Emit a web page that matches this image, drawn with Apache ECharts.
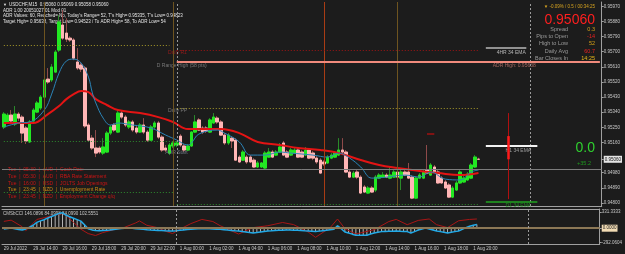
<!DOCTYPE html>
<html>
<head>
<meta charset="utf-8">
<script src="https://cdn.jsdelivr.net/npm/echarts@6/dist/echarts.min.js"></script>
<style>
  html, body { margin: 0; padding: 0; background: #1c1c1c; }
  #main { width: 625px; height: 254px; }
</style>
</head>
<body>
<div id="main"></div>
<script>
// M15 bars: Friday afternoon, Monday, then the empty chart shift on the right
const sessions = [
  { day: "29 Jul", from: 12 * 60, bars: 48 },
  { day: "1 Aug", from: 0, bars: 96 },
  { day: "2 Aug", from: 0, bars: 19 },
];
const pad = (n) => String(n).padStart(2, "0");
const times = sessions.flatMap(({ day, from, bars }) =>
  Array.from({ length: bars }, (_, j) => {
    const m = from + j * 15;
    return `${day} ${pad(Math.floor(m / 60))}:${pad(m % 60)}`;
  })
);

// [open, close, low, high]
const candles = [
  [0.95252, 0.95329, 0.95240, 0.95341], [0.95282, 0.95323, 0.95270, 0.95335],
  [0.95323, 0.95288, 0.95276, 0.95353], [0.95270, 0.95329, 0.95258, 0.95377],
  [0.95329, 0.95305, 0.95288, 0.95341], [0.95311, 0.95216, 0.95157, 0.95323],
  [0.95246, 0.95169, 0.95151, 0.95258], [0.95163, 0.95282, 0.95157, 0.95294],
  [0.95288, 0.95353, 0.95282, 0.95365], [0.95341, 0.95395, 0.95335, 0.95407],
  [0.95365, 0.95430, 0.95353, 0.95442], [0.95430, 0.95532, 0.95424, 0.95543],
  [0.95537, 0.95520, 0.95508, 0.95603], [0.95532, 0.95609, 0.95520, 0.95627],
  [0.95579, 0.95698, 0.95573, 0.95710], [0.95710, 0.95877, 0.95698, 0.95918],
  [0.95859, 0.95781, 0.95770, 0.95948], [0.95811, 0.95775, 0.95758, 0.95900],
  [0.95781, 0.95770, 0.95758, 0.95793], [0.95770, 0.95662, 0.95650, 0.95781],
  [0.95639, 0.95603, 0.95591, 0.95722], [0.95621, 0.95597, 0.95579, 0.95639],
  [0.95603, 0.95258, 0.95246, 0.95615], [0.95264, 0.95174, 0.95163, 0.95276],
  [0.95186, 0.95127, 0.95115, 0.95204], [0.95127, 0.95097, 0.95073, 0.95234],
  [0.95127, 0.95103, 0.95091, 0.95139], [0.95097, 0.95133, 0.95085, 0.95186],
  [0.95103, 0.95216, 0.95097, 0.95228], [0.95216, 0.95252, 0.95204, 0.95264],
  [0.95264, 0.95234, 0.95222, 0.95276], [0.95222, 0.95335, 0.95216, 0.95353],
  [0.95335, 0.95311, 0.95299, 0.95347], [0.95311, 0.95264, 0.95252, 0.95323],
  [0.95252, 0.95282, 0.95240, 0.95294], [0.95282, 0.95234, 0.95222, 0.95294],
  [0.95246, 0.95222, 0.95210, 0.95258], [0.95222, 0.95264, 0.95216, 0.95276],
  [0.95264, 0.95222, 0.95210, 0.95305], [0.95222, 0.95174, 0.95163, 0.95234],
  [0.95174, 0.95252, 0.95169, 0.95264], [0.95252, 0.95276, 0.95240, 0.95288],
  [0.95276, 0.95192, 0.95180, 0.95288], [0.95192, 0.95115, 0.95103, 0.95204],
  [0.95127, 0.95115, 0.95103, 0.95145], [0.95097, 0.95145, 0.95085, 0.95157],
  [0.95139, 0.95157, 0.95127, 0.95169], [0.95145, 0.95157, 0.95133, 0.95169],
  [0.95198, 0.95145, 0.95133, 0.95210], [0.95139, 0.95115, 0.95103, 0.95151],
  [0.95115, 0.95139, 0.95109, 0.95151], [0.95139, 0.95222, 0.95133, 0.95228],
  [0.95222, 0.95282, 0.95216, 0.95323], [0.95294, 0.95234, 0.95228, 0.95305],
  [0.95246, 0.95222, 0.95210, 0.95258], [0.95246, 0.95228, 0.95216, 0.95258],
  [0.95222, 0.95294, 0.95216, 0.95305], [0.95276, 0.95311, 0.95270, 0.95335],
  [0.95305, 0.95282, 0.95270, 0.95317], [0.95282, 0.95204, 0.95198, 0.95294],
  [0.95204, 0.95157, 0.95145, 0.95216], [0.95157, 0.95204, 0.95145, 0.95216],
  [0.95186, 0.95169, 0.95127, 0.95198], [0.95174, 0.95055, 0.95050, 0.95186],
  [0.95073, 0.95044, 0.95038, 0.95085], [0.95055, 0.95103, 0.95050, 0.95115],
  [0.95073, 0.95044, 0.95032, 0.95085], [0.95073, 0.95044, 0.95038, 0.95085],
  [0.95055, 0.95014, 0.95008, 0.95067], [0.95014, 0.95038, 0.95008, 0.95050],
  [0.95014, 0.95038, 0.95008, 0.95044], [0.95008, 0.95097, 0.95002, 0.95109],
  [0.95073, 0.95103, 0.95067, 0.95127], [0.95103, 0.95073, 0.95067, 0.95115],
  [0.95085, 0.95103, 0.95079, 0.95115], [0.95103, 0.95133, 0.95097, 0.95157],
  [0.95157, 0.95085, 0.95079, 0.95169], [0.95103, 0.95073, 0.95067, 0.95115],
  [0.95085, 0.95115, 0.95079, 0.95127], [0.95097, 0.95115, 0.95091, 0.95127],
  [0.95115, 0.95073, 0.95067, 0.95127], [0.95103, 0.95073, 0.95067, 0.95115],
  [0.95085, 0.95115, 0.95079, 0.95133], [0.95115, 0.95067, 0.95061, 0.95127],
  [0.95097, 0.95067, 0.95055, 0.95109], [0.95067, 0.95044, 0.95032, 0.95079],
  [0.95055, 0.94978, 0.94972, 0.95067], [0.95044, 0.95032, 0.95020, 0.95055],
  [0.95038, 0.95073, 0.95032, 0.95085], [0.95067, 0.95085, 0.95061, 0.95097],
  [0.95073, 0.95097, 0.95067, 0.95109], [0.95085, 0.95115, 0.95079, 0.95186],
  [0.95115, 0.95103, 0.95085, 0.95186], [0.95103, 0.94984, 0.94978, 0.95115],
  [0.94984, 0.94954, 0.94948, 0.94996], [0.94954, 0.94978, 0.94948, 0.94990],
  [0.94984, 0.94954, 0.94942, 0.94996], [0.94954, 0.94859, 0.94853, 0.94966],
  [0.94895, 0.94865, 0.94859, 0.94907], [0.94859, 0.94889, 0.94853, 0.94901],
  [0.94889, 0.94865, 0.94859, 0.94901], [0.94877, 0.94954, 0.94865, 0.94966],
  [0.94948, 0.94966, 0.94942, 0.94978], [0.94954, 0.94966, 0.94948, 0.94984],
  [0.94966, 0.94954, 0.94948, 0.94978], [0.94948, 0.94966, 0.94942, 0.95020],
  [0.94954, 0.94984, 0.94948, 0.94996], [0.94984, 0.94954, 0.94948, 0.94996],
  [0.94948, 0.94984, 0.94877, 0.94996], [0.94984, 0.94966, 0.94960, 0.94996],
  [0.94984, 0.94948, 0.94942, 0.95038], [0.94954, 0.94829, 0.94823, 0.94966],
  [0.94829, 0.94948, 0.94823, 0.94960], [0.94948, 0.94966, 0.94942, 0.94978],
  [0.94948, 0.94984, 0.94942, 0.94996], [0.94996, 0.94978, 0.94972, 0.95145],
  [0.94966, 0.95026, 0.94960, 0.95038], [0.95014, 0.94984, 0.94978, 0.95026],
  [0.94984, 0.94919, 0.94913, 0.94996], [0.94948, 0.94919, 0.94913, 0.94960],
  [0.94925, 0.94889, 0.94883, 0.94937], [0.94907, 0.94835, 0.94829, 0.94919],
  [0.94835, 0.94889, 0.94829, 0.94901], [0.94877, 0.94919, 0.94871, 0.94931],
  [0.94919, 0.94984, 0.94913, 0.94996], [0.94925, 0.94948, 0.94919, 0.94960],
  [0.94937, 0.94972, 0.94931, 0.94984], [0.94948, 0.95026, 0.94942, 0.95038],
  [0.95014, 0.95073, 0.95008, 0.95085], [0.95060, 0.95060, 0.95058, 0.95069],
];

// moving averages: [bar, price]
const emaFast = [
  [0, 0.95252], [4, 0.95276], [7, 0.95282], [11, 0.95353], [13, 0.95448], [15, 0.95573],
  [17, 0.95645], [19, 0.95656], [21, 0.95633], [23, 0.95549], [24, 0.95460], [25, 0.95395],
  [27, 0.95305], [29, 0.95264], [31, 0.95276], [35, 0.95264], [40, 0.95246], [44, 0.95204],
  [47, 0.95175], [50, 0.95145], [51, 0.95157], [53, 0.95210], [58, 0.95234], [60, 0.95216],
  [64, 0.95163], [67, 0.95085], [71, 0.95085], [75, 0.95103], [78, 0.95097], [84, 0.95085],
  [88, 0.95073], [91, 0.95097], [94, 0.95067], [97, 0.95014], [100, 0.94948], [104, 0.94954],
  [109, 0.94966], [113, 0.94954], [116, 0.94984], [120, 0.94942], [124, 0.94937],
  [127, 0.94984], [129, 0.94996],
];
const emaSlow = [
  [0, 0.95276], [8, 0.95276], [12, 0.95329], [15, 0.95377], [17, 0.95418], [19, 0.95448],
  [21, 0.95466], [23, 0.95460], [25, 0.95418], [28, 0.95383], [31, 0.95353], [37, 0.95335],
  [42, 0.95311], [46, 0.95282], [50, 0.95240], [55, 0.95240], [59, 0.95240], [64, 0.95216],
  [69, 0.95163], [75, 0.95145], [80, 0.95127], [86, 0.95115], [91, 0.95097], [97, 0.95056],
  [102, 0.95026], [107, 0.95008], [113, 0.94990], [118, 0.94978], [124, 0.94966], [129, 0.94978],
];

// lower panel
const cciFast = [
  -14, -5, 4, -10, -25, -37, -15, 20, 60, 120,
  150, 175, 210, 240, 270, 300, 315, 265, 235, 205,
  175, 145, 70, -10, -35, -45, -50, -45, -40, -37,
  -28, -15, -8, 0, 4, -2, -10, -18, -23, -30,
  -36, -40, -45, -48, -52, -55, -57, -50, -42, -35,
  -28, -23, -18, -12, -10, -8, -12, -16, -20, -23,
  -30, -38, -45, -52, -57, -68, -78, -88, -98, -88,
  -76, -66, -57, -52, -46, -42, -40, -37, -39, -41,
  -43, -45, -52, -58, -64, -70, -60, -50, -40, -30,
  -23, 51, -10, -78, -100, -122, -143, -145, -146, -143,
  -120, -100, -85, -70, -66, -62, -60, -57, -62, -66,
  -70, -98, -70, -40, -15, 4, -15, -35, -57, -70,
  -85, -98, -85, -70, -57, -25, 12, 40, 60, 78,
];
const cciSlow = [
  [0, 140], [2, 165], [5, 30], [6, -50], [8, 100], [9, 180], [11, 215], [13, 255], [16, 300],
  [17, 260], [19, 120], [21, -20], [23, -110], [25, -150], [27, -90], [30, -30], [33, 20],
  [36, 110], [37, 150], [39, 60], [42, 10], [44, -60], [46, -110], [48, -20], [51, 94],
  [54, 180], [57, 137], [59, 51], [64, -119], [68, 12], [72, 51], [76, 117], [79, 74],
  [83, -78], [85, -187], [89, 12], [91, 189], [93, -8], [96, -119], [101, -31], [105, 137],
  [107, 180], [110, 72], [113, 160], [116, 189], [118, 72], [121, 12], [124, 152],
  [127, 180], [129, 189],
];

const priceTicks = [0.948, 0.9489, 0.9498, 0.9506, 0.9516, 0.9525, 0.9534, 0.9543,
  0.9552, 0.9561, 0.957, 0.9579, 0.9588, 0.9597];
const cciTicks = [331.3333, 0, -292.0604];

// levels drawn by the indicators
const bid = 0.9506;
const prevR1 = 0.9574;
const dailyR1 = 0.9571;
const adrHigh = 0.95638;
const dailyPP = 0.95365;
const prevUpper = 0.95169;
const prevLower = 0.94865;
const dailyS1 = 0.94794;
const ema4h = 0.95722;
const emaH1 = 0.95139;
const emaD1 = 0.94806;
const dayOpen = 0.95198;
const dayHigh = 0.95335;
const dayLow = 0.94823;
const tickMark = 0.9521;

const FONT = '"Liberation Sans", Arial, sans-serif';
const t = (k) => times[k];
const pair = ([k, v]) => [t(k), v];
const seg = (k1, k2, p, color, width, type = "solid") => [
  { coord: [t(k1), p], lineStyle: { color, width, type } },
  { coord: [t(k2), p] },
];
const vseg = (k, p1, p2, color, width) => [
  { coord: [t(k), p1], lineStyle: { color, width, type: "solid" } },
  { coord: [t(k), p2] },
];
const vline = (k, color, type = "solid") => ({ xAxis: t(k), lineStyle: { color, width: 1, type } });
const tag = (k, p, text, color, align = "left", dx = 0, dy = 1) => ({
  value: [t(k), p],
  label: { show: true, formatter: text, color, align, verticalAlign: "top", position: [dx, dy], fontSize: 5 },
});
const txt = (x, y, text, fill, size, align = "left") => ({
  type: "text", x, y, silent: true,
  style: { text, fill, font: `${size}px ${FONT}`, align, verticalAlign: "middle" },
});
const showTime = (i) => i % 8 === 0 && i <= 128;

const dotted = [1, 2];
const dashed = [2, 2];

const option = {
  backgroundColor: "#1c1c1c",
  animation: false,
  textStyle: { fontFamily: FONT },
  grid: [
    { left: 2, right: 21, top: 2, height: 204 },
    { left: 2, right: 21, top: 209, height: 35 },
  ],
  xAxis: [
    {
      type: "category", gridIndex: 0, data: times,
      axisLine: { onZero: false, lineStyle: { color: "#a0a0a0" } },
      axisTick: { show: false }, axisLabel: { show: false },
    },
    {
      type: "category", gridIndex: 1, data: times,
      axisLine: { onZero: false, lineStyle: { color: "#a0a0a0" } },
      axisTick: { alignWithLabel: true, interval: showTime, length: 2, lineStyle: { color: "#a0a0a0" } },
      axisLabel: {
        interval: showTime, align: "left", color: "#c8c8c8", fontSize: 4.5, margin: 2,
        formatter: (v, i) => (i === 0 ? "29 Jul 2022" : v),
      },
    },
    {
      type: "category", gridIndex: 1, data: times, position: "top",
      axisLine: { onZero: false, lineStyle: { color: "#a0a0a0" } },
      axisTick: { show: false }, axisLabel: { show: false },
    },
  ],
  yAxis: [
    {
      type: "value", gridIndex: 0, position: "right", min: 0.94782, max: 0.95996,
      axisLine: { show: true, lineStyle: { color: "#a0a0a0" } },
      axisTick: { show: true, customValues: priceTicks, length: 2, lineStyle: { color: "#a0a0a0" } },
      axisLabel: {
        customValues: priceTicks, color: "#c8c8c8", fontSize: 4.5, margin: 2,
        formatter: (v) => (Math.abs(v - bid) < 1e-7 ? `{cur|${v.toFixed(5)}}` : v.toFixed(5)),
        rich: { cur: { backgroundColor: "#e4e4e4", color: "#111", fontSize: 4.5, padding: [1, 1] } },
      },
      splitLine: { show: false },
    },
    {
      type: "value", gridIndex: 1, position: "right", min: -324, max: 394,
      axisLine: { show: true, lineStyle: { color: "#a0a0a0" } },
      axisTick: { show: true, customValues: cciTicks, length: 2, lineStyle: { color: "#a0a0a0" } },
      axisLabel: {
        customValues: cciTicks, color: "#c8c8c8", fontSize: 4.5, margin: 2,
        formatter: (v) => (v === 0 ? "{hl|0.0000}" : v.toFixed(4)),
        rich: { hl: { backgroundColor: "#f2dcb4", color: "#222", fontSize: 4.5, padding: [1, 1] } },
      },
      splitLine: { show: false },
    },
  ],
  series: [
    {
      name: "wicks", type: "candlestick", xAxisIndex: 0, yAxisIndex: 0, barWidth: 3,
      data: candles,
      itemStyle: { color: "#2a8a2a", color0: "#8e4a4a", borderColor: "#2a8a2a", borderColor0: "#8e4a4a" },
      markLine: {
        silent: true, symbol: ["none", "none"], label: { show: false },
        data: [
          vline(11, "#6e5420"), vline(46, "#6e5420"), vline(87, "#a83c14"), vline(107, "#6e5420"),
          vline(47, "#9a9a9a", dashed), vline(143, "#9a9a9a", dashed),
          { yAxis: bid, lineStyle: { color: "#7c7c7c", width: 1, type: "solid" } },
          seg(0, 45, prevR1, "#a89b2a", 1, dotted),
          seg(47, 129, dailyR1, "#a01414", 1, dotted),
          seg(47, 162, adrHigh, "#f08a7c", 2),
          seg(47, 129, dailyPP, "#a89b2a", 1, dotted),
          seg(0, 47, prevUpper, "#2e8b2e", 1, dotted),
          seg(0, 46, prevLower, "#2e8b2e", 1, dotted),
          seg(47, 129, dailyS1, "#2e8b2e", 1, dotted),
          seg(131, 142, ema4h, "#b8b8b8", 1.5),
          seg(131, 145, emaH1, "#f2f2f2", 2),
          seg(131, 145, emaD1, "#1fa51f", 1.5),
          seg(115, 117, tickMark, "#a01010", 1.5),
          vseg(137, dayLow, dayHigh, "#b01010", 1),
          vseg(137, dayOpen, bid, "#ff1a1a", 2.5),
        ],
      },
    },
    {
      name: "bodies", type: "candlestick", xAxisIndex: 0, yAxisIndex: 0, barWidth: 3,
      data: candles.map(([o, c]) => [o, c, Math.min(o, c), Math.max(o, c)]),
      itemStyle: { color: "#22e822", color0: "#ffb6b6", borderColor: "#22e822", borderColor0: "#ffb6b6" },
    },
    {
      name: "ema slow", type: "line", xAxisIndex: 0, yAxisIndex: 0, data: emaSlow.map(pair),
      smooth: 0.4, symbol: "none", lineStyle: { color: "#e41414", width: 2 },
    },
    {
      name: "ema fast", type: "line", xAxisIndex: 0, yAxisIndex: 0, data: emaFast.map(pair),
      smooth: 0.4, symbol: "none", lineStyle: { color: "#2b84b8", width: 1 },
    },
    {
      name: "tags", type: "scatter", xAxisIndex: 0, yAxisIndex: 0, symbolSize: 1, silent: true,
      itemStyle: { color: "rgba(0,0,0,0)" },
      data: [
        tag(45, dailyR1, "Daily R1", "#b51a1a", "left", -1, 1),
        tag(42, adrHigh, "D Range High (58 pts)", "#8e8e8e", "left", -1, 1),
        tag(133, adrHigh, "ADR High: 0.95638", "#c27a72", "left", 0, 1.5),
        tag(45, dailyPP, "Daily PP", "#8e8e8e", "left", -1, 1),
        tag(44, 0.95109, "ADR Start", "#7f8c99", "left", 0, 0),
        tag(142, ema4h, "4HR 34 EMA", "#d8d8d8", "right", 0, 2.5),
        tag(144, emaH1, "H1 34 EMA", "#bdbdbd", "right", -2, 2.5),
        tag(144, emaD1, "D1 34 EMA", "#1fa51f", "right", -2, 2),
      ],
    },
    {
      name: "cci hist", type: "bar", xAxisIndex: 1, yAxisIndex: 1, data: cciFast,
      barWidth: 1, itemStyle: { color: "#b4b4b4" },
      markLine: {
        silent: true, symbol: ["none", "none"], label: { show: false },
        data: [
          { yAxis: 0, lineStyle: { color: "#8c7856", width: 2, type: "solid" } },
          vline(47, "#9a9a9a", dashed), vline(143, "#9a9a9a", dashed),
        ],
      },
    },
    {
      name: "cci slow", type: "line", xAxisIndex: 1, yAxisIndex: 1, data: cciSlow.map(pair),
      symbol: "none", lineStyle: { color: "#a81616", width: 1 },
    },
    {
      name: "cci fast", type: "line", xAxisIndex: 1, yAxisIndex: 1, data: cciFast,
      symbol: "none", lineStyle: { color: "#22aae8", width: 1.5 },
    },
  ],
  graphic: [
    txt(3, 5, "▼", "#e0e0e0", 4),
    txt(9, 5, "USDCHF,M15  0.95060 0.95069 0.95058 0.95060", "#e6e6e6", 4.5),
    txt(3, 10.3, "ADR 1.00 20051027 01 Mod 01", "#e6e6e6", 4.5),
    txt(3, 15.7, "ADR Values: 60, Reached= No, Today's Range= 52, T's High= 0.95335, T's Low= 0.94823", "#e6e6e6", 4.5),
    txt(3, 21.3, "Target High= 0.95638, Target Low= 0.94523 / To ADR High= 58, To ADR Low= 54", "#e6e6e6", 4.5),

    txt(595, 7, "▼ -0.09% / 0.5 / 00:34:25", "#d9a520", 4.5, "right"),
    txt(595, 20, "0.95060", "#ff1f1f", 14, "right"),
    txt(568, 29, "Spread", "#9a9a9a", 5.5, "right"),
    txt(568, 36.3, "Pips to Open", "#9a9a9a", 5.5, "right"),
    txt(568, 43.6, "High to Low", "#9a9a9a", 5.5, "right"),
    txt(568, 51, "Daily Avg", "#9a9a9a", 5.5, "right"),
    txt(568, 58, "Bar Closes In", "#9a9a9a", 5.5, "right"),
    txt(595, 29, "0.3", "#d4a017", 5.5, "right"),
    txt(595, 36.3, "-14", "#e82020", 5.5, "right"),
    txt(595, 43.6, "52", "#d4a017", 5.5, "right"),
    txt(595, 51, "60.7", "#e82020", 5.5, "right"),
    txt(595, 58, "14:25", "#e8b818", 5.5, "right"),
    txt(595, 148, "0.0", "#2fd02f", 14, "right"),
    txt(591, 163, "+35.2", "#1f9a1f", 5.5, "right"),

    txt(8, 169.7, "Tue  |  05:30  |  AUD  |  Cash Rate", "#cc1414", 5),
    txt(8, 176.5, "Tue  |  05:30  |  AUD  |  RBA Rate Statement", "#cc1414", 5),
    txt(8, 183.3, "Tue  |  16:00  |  USD  |  JOLTS Job Openings", "#cc1414", 5),
    txt(8, 190, "Tue  |  23:45  |  NZD  |  Unemployment Rate", "#cf8a12", 5),
    txt(8, 197, "Tue  |  23:45  |  NZD  |  Employment Change q/q", "#cc1414", 5),

    txt(3, 213.5, "CMSbCCI 146.0896 84.0998 84.0990 102.5551", "#c8c8c8", 4.5),
  ],
};

const chart = echarts.init(document.getElementById("main"));
chart.setOption(option);
</script>
</body>
</html>
